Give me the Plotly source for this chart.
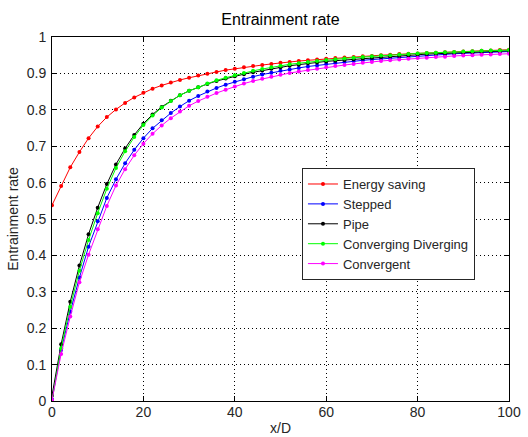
import plotly.graph_objects as go

x_d = list(range(0, 101, 2))

energy_saving = [0.538, 0.591, 0.642, 0.684, 0.722, 0.754, 0.780, 0.801, 0.819, 0.834,
                 0.847, 0.858, 0.867, 0.875, 0.882, 0.888, 0.894, 0.899, 0.904, 0.909,
                 0.913, 0.917, 0.920, 0.923, 0.926, 0.929, 0.931, 0.934, 0.936, 0.938,
                 0.940, 0.942, 0.944, 0.945, 0.947, 0.948, 0.950, 0.951, 0.953, 0.954,
                 0.955, 0.956, 0.957, 0.958, 0.959, 0.960, 0.961, 0.962, 0.963, 0.964, 0.965]

stepped = [0.005, 0.140, 0.245, 0.339, 0.424, 0.494, 0.558, 0.609, 0.653, 0.690,
           0.722, 0.749, 0.771, 0.791, 0.809, 0.825, 0.838, 0.850, 0.860, 0.869,
           0.877, 0.884, 0.891, 0.897, 0.902, 0.907, 0.911, 0.915, 0.919, 0.922,
           0.926, 0.929, 0.931, 0.934, 0.936, 0.938, 0.940, 0.942, 0.944, 0.946,
           0.948, 0.950, 0.951, 0.952, 0.954, 0.955, 0.956, 0.957, 0.958, 0.959, 0.960]

pipe = [0.015, 0.156, 0.273, 0.372, 0.458, 0.531, 0.596, 0.650, 0.694, 0.731,
        0.762, 0.787, 0.808, 0.825, 0.840, 0.852, 0.862, 0.871, 0.879, 0.886,
        0.892, 0.898, 0.903, 0.908, 0.913, 0.917, 0.921, 0.924, 0.928, 0.930,
        0.933, 0.935, 0.937, 0.939, 0.941, 0.943, 0.945, 0.947, 0.948, 0.950,
        0.952, 0.953, 0.954, 0.955, 0.956, 0.957, 0.958, 0.959, 0.960, 0.961, 0.962]

conv_div = [0.000, 0.145, 0.259, 0.358, 0.442, 0.516, 0.583, 0.640, 0.686, 0.725,
            0.758, 0.784, 0.806, 0.824, 0.840, 0.852, 0.862, 0.872, 0.881, 0.888,
            0.895, 0.901, 0.907, 0.912, 0.917, 0.921, 0.925, 0.928, 0.931, 0.934,
            0.937, 0.939, 0.941, 0.943, 0.945, 0.947, 0.949, 0.950, 0.952, 0.953,
            0.955, 0.956, 0.957, 0.958, 0.959, 0.960, 0.961, 0.962, 0.963, 0.963, 0.964]

convergent = [0.003, 0.129, 0.232, 0.326, 0.402, 0.472, 0.536, 0.592, 0.637, 0.675,
              0.707, 0.734, 0.757, 0.777, 0.795, 0.811, 0.824, 0.836, 0.846, 0.855,
              0.864, 0.872, 0.879, 0.885, 0.891, 0.896, 0.901, 0.905, 0.909, 0.913,
              0.917, 0.920, 0.923, 0.926, 0.929, 0.931, 0.934, 0.936, 0.938, 0.940,
              0.942, 0.943, 0.945, 0.946, 0.948, 0.949, 0.950, 0.951, 0.952, 0.953, 0.954]

series_names = ["Energy saving", "Stepped", "Pipe", "Converging Diverging", "Convergent"]
series_values = [energy_saving, stepped, pipe, conv_div, convergent]
series_colors = ["#ff0000", "#0000ff", "#000000", "#00ff00", "#ff00ff"]

x_ticks = [0, 20, 40, 60, 80, 100]
y_ticks = [0, 0.1, 0.2, 0.3, 0.4, 0.5, 0.6, 0.7, 0.8, 0.9, 1]
y_tick_labels = ["0", "0.1", "0.2", "0.3", "0.4", "0.5", "0.6", "0.7", "0.8", "0.9", "1"]

FONT = "Liberation Sans, Arial, sans-serif"
TXT = "#262626"

fig = go.Figure()
for name, vals, col in zip(series_names, series_values, series_colors):
    fig.add_trace(go.Scatter(
        x=x_d, y=vals, name=name, mode="lines+markers",
        line=dict(color=col, width=1),
        marker=dict(color=col, size=4, symbol="circle"),
    ))

axis_common = dict(
    showline=True, linecolor="#000000", linewidth=1, mirror="allticks",
    ticks="inside", ticklen=5, tickcolor="#000000",
    showgrid=True, gridcolor="#000000", griddash="1px,3px", gridwidth=1,
    zeroline=False, automargin=False,
    tickfont=dict(family=FONT, size=14, color=TXT),
)

fig.update_xaxes(range=[0, 100], tickvals=x_ticks, ticklabelstandoff=-2,
                 title=dict(text="x/D", font=dict(family=FONT, size=14, color=TXT), standoff=4),
                 **axis_common)
fig.update_yaxes(range=[0, 1], tickvals=y_ticks, ticktext=y_tick_labels, ticklabelstandoff=2,
                 title=dict(text="Entrainment rate", font=dict(family=FONT, size=14, color=TXT), standoff=4),
                 **axis_common)

fig.update_layout(
    width=528, height=437,
    margin=dict(l=52, r=19, t=37, b=36),
    paper_bgcolor="white", plot_bgcolor="white",
    title=dict(text="Entrainment rate", x=0.5, xref="paper", xanchor="center",
               y=1 - 19 / 437, yanchor="middle",
               font=dict(family=FONT, size=16, color="#000000")),
    legend=dict(x=0.547, y=0.64, xanchor="left", yanchor="top",
                bgcolor="white", bordercolor="#262626", borderwidth=1,
                font=dict(family=FONT, size=13, color=TXT),
                tracegroupgap=0, itemwidth=30),
    showlegend=True,
)

fig.write_html("out.html")
